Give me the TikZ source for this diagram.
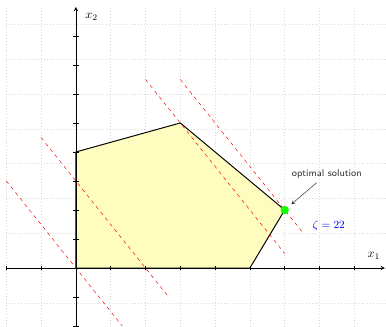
\documentclass[tikz,border=0pt]{standalone}
\usepackage{amsmath, amssymb}
\usetikzlibrary{calc}
\begin{document}
\begin{tikzpicture}[>=stealth, x=1cm, y=0.8333cm]
        % --- 1. Parameters ---
        \def\xmin{-2}
        \def\xmax{8.88}
        \def\ymin{-2}
        \def\ymax{9}
        \def\tickL{0.08}
        \tikzset{
            levelline/.style={red, dashed},
            feasible/.style={thick, fill=yellow!25},
            axisline/.style={->, semithick},
        }
        \useasboundingbox (-2.18,-2) rectangle (8.91,9.24);
        % Grid
        \draw[dotted, gray!30] (\xmin,\ymin) grid (9,\ymax);
        % --- 2. Feasible Region ---
        \draw[feasible] (0,0) -- (0,4) -- (3,5) -- (6,2) -- (5,0) -- cycle;
        % --- 3. Level Lines of 3x_1 + 2x_2 ---
        \draw[levelline] (-2,3) -- (4/3,-2);
        \draw[levelline] (-1,4.5) -- (8/3,-1);
        \draw[levelline] (2,6.5) -- (6,0.5);
        \draw[levelline] (3,6.5) -- (6.5,1.25);
        % --- 4. Axes ---
        \draw[axisline] (\xmin,0) -- (\xmax,0) coordinate (X);
        \draw[axisline] (0,\ymin) -- (0,\ymax) coordinate (Y);
        \foreach \i in {-2,...,8}
            \draw (\i,0) ++(0,-\tickL) -- ++(0,2*\tickL);
        \foreach \j in {-2,-1,1,2,...,8}
            \draw (0,\j) ++(-\tickL,0) -- ++(2*\tickL,0);
        \node (x1) at (8.56,0.41) {$x_1$};
        \node (x2) at (0.45,8.66) {$x_2$};
        % --- 5. Annotations ---
        \node[circle, fill=green!90!lime, inner sep=0pt, minimum size=0.24cm] (P) at (6,2) {};
        \node[font=\footnotesize\sffamily, text=black!80] (opt) at (7.21,3.24) {optimal solution};
        \draw[->, black!80, shorten >=3.5pt] (opt) -- (P);
        \node[blue, anchor=west, font=\small] (zeta) at (6.68,1.45) {$\zeta = 22$};
    \end{tikzpicture}
\end{document}
